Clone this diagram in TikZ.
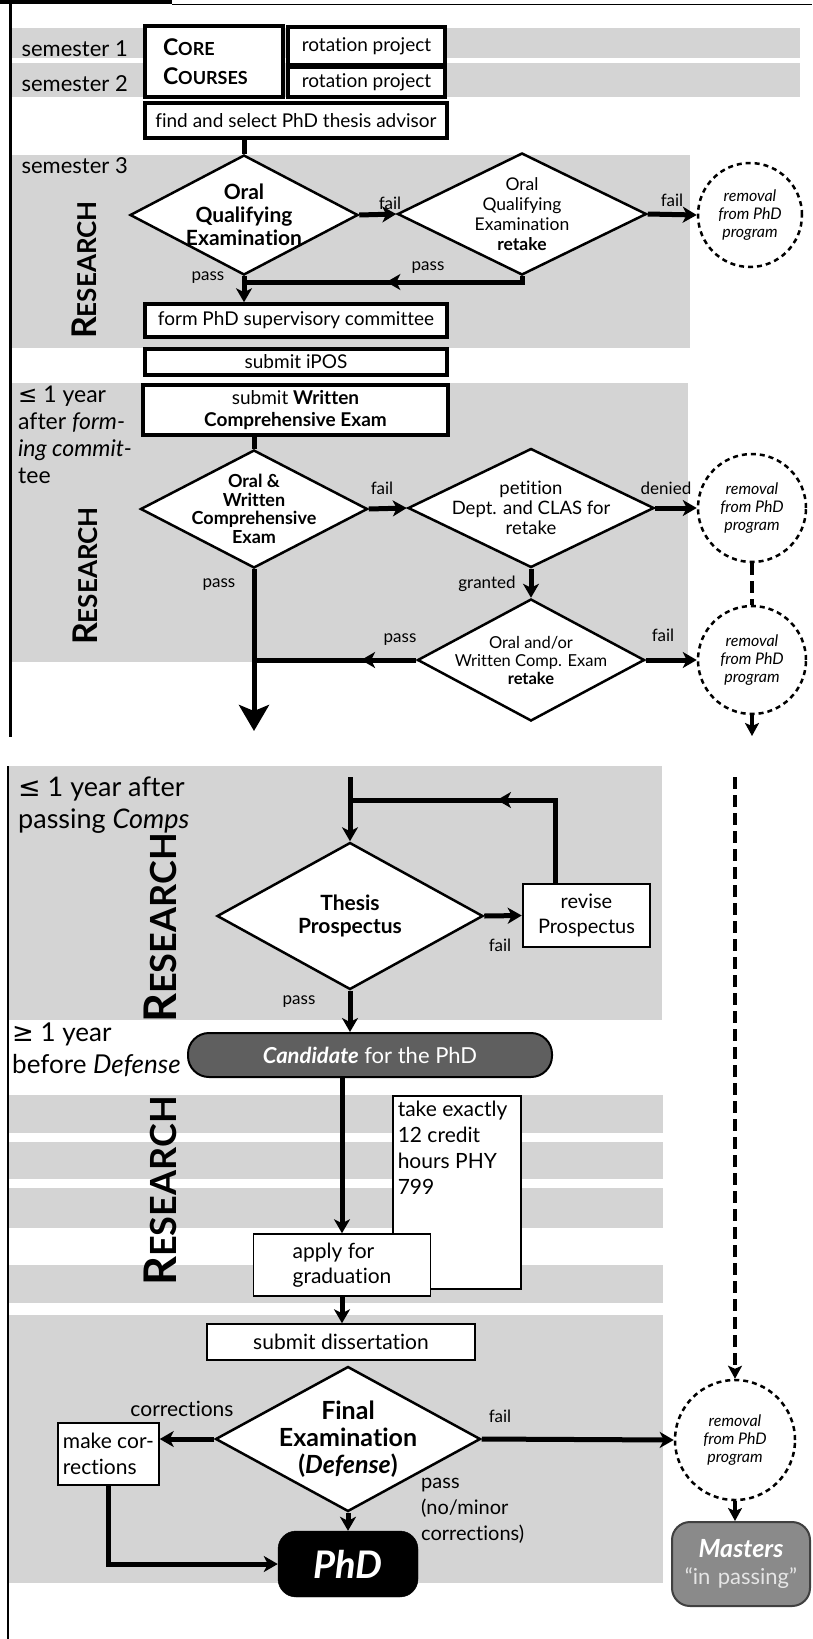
\documentclass[tikz,border=0pt]{standalone}
\usepackage{fontspec}
\setmainfont{Lato}[Ligatures=NoCommon]
\newfontfamily\symfont{DejaVu Sans}
\usetikzlibrary{arrows.meta,shapes.geometric,decorations.markings}
\definecolor{bandgray}{RGB}{212,212,212}
\definecolor{candgray}{RGB}{95,95,95}
\definecolor{mastgray}{RGB}{138,138,138}
\newcommand{\fs}[2]{\fontsize{#1}{#2}\selectfont}
\newcommand{\research}[2]{\bfseries{\fs{#1}{#1}R}\fs{#2}{#2}ESEARCH}
\tikzset{
  band/.style={fill=bandgray},
  heavybox/.style={draw, line width=3.5pt, fill=white, inner sep=0pt, font=\fs{19}{22}},
  lightbox/.style={draw, line width=1.5pt, fill=white, inner sep=4pt, font=\fs{21}{25}},
  decision/.style={diamond, draw, line width=2.5pt, fill=white, inner sep=-12pt,
    shape aspect=1.9, align=center},
  removal/.style={circle, draw, line width=2.5pt, dash pattern=on 5pt off 4pt, fill=white,
    inner sep=0pt, align=center, font=\itshape\fs{16}{18}},
  lbl/.style={inner sep=0pt, font=\fs{17}{20}},
  note/.style={inner sep=0pt, align=left, anchor=north west},
  trunk/.style={line width=5pt},
  flow/.style={trunk, -{Stealth[length=14pt,width=16pt,inset=4pt]}},
  midflow/.style={trunk, decoration={markings,
    mark=at position #1 with {\arrow{Stealth[length=14pt,width=16pt,inset=4pt]}}},
    postaction=decorate},
  dashline/.style={line width=4pt, dash pattern=on 12pt off 6pt},
  dashflow/.style={dashline, -{Stealth[length=13pt,width=14pt,inset=3pt]}},
}
\begin{document}
\begin{tikzpicture}[x=1pt,y=-1pt]
  \useasboundingbox (0,0) rectangle (812,1639);
  \fill[band] (12,28) rectangle (800,58);
  \fill[band] (12,63) rectangle (800,97);
  \fill[band] (12,155) rectangle (690,348);
  \fill[band] (12,383) rectangle (688,662);
  \fill[band] (8,766) rectangle (662,1020);
  \fill[band] (8,1095) rectangle (663,1133);
  \fill[band] (8,1142) rectangle (663,1179);
  \fill[band] (8,1188) rectangle (663,1228);
  \fill[band] (8,1265) rectangle (663,1303);
  \fill[band] (8,1315) rectangle (663,1583);
  \fill (0,0) rectangle (172,4);
  \draw[line width=1pt] (172,4) -- (812,4);
  \draw[line width=3pt] (10,4) -- (10,737);
  \draw[line width=2pt] (8,766) -- (8,1639);

  \node[anchor=base west, font=\fs{22}{27}] (sem1) at (18,56) {semester 1};
  \node[anchor=base west, font=\fs{22}{27}] (sem2) at (18,91) {semester 2};
  \node[anchor=base west, font=\fs{22}{27}] (sem3) at (18,173) {semester 3};
  \node[rotate=90] (res1) at (84,270) {\research{34}{26}};
  \node[note, font=\fs{23}{27}] (within1) at (18,386)
    {{\symfont ≤} 1 year\\after \textit{form-}\\\textit{ing commit-}\\tee};
  \node[rotate=90] (res2) at (85,576) {\research{34}{26}};

  \node[heavybox, minimum width=138pt, minimum height=71pt, text width=102pt, align=left,
    font=\bfseries\fs{18}{29}] (core) at (214,61.5)
    {{\fs{23}{29}C}ORE\\{\fs{23}{29}C}OURSES};
  \node[heavybox, minimum width=157pt, minimum height=38pt] (rot1) at (366.5,46) {rotation project};
  \node[heavybox, minimum width=157pt, minimum height=30pt] (rot2) at (366.5,82) {rotation project};
  \node[heavybox, minimum width=302pt, minimum height=35pt] (advisor) at (296,120.5)
    {find and select PhD thesis advisor};
  \node[decision, minimum width=228pt, minimum height=120pt, font=\bfseries\fs{21}{23}] (oqe)
    at (244,215) {Oral\\Qualifying\\Examination};
  \node[decision, minimum width=249pt, minimum height=122pt, font=\fs{17.5}{20}] (oqr)
    at (522,214) {Oral\\Qualifying\\Examination\\\textbf{retake}};
  \node[removal, minimum size=104pt] (rm1) at (750,215) {removal\\from PhD\\program};
  \node[heavybox, minimum width=302pt, minimum height=33pt] (form) at (296,320.5)
    {form PhD supervisory committee};
  \node[heavybox, minimum width=302pt, minimum height=26pt] (ipos) at (296,362) {submit iPOS};
  \node[heavybox, minimum width=305pt, minimum height=50pt, align=center] (writ) at (295.5,410)
    {submit \textbf{Written}\\\textbf{Comprehensive Exam}};
  \node[decision, minimum width=227pt, minimum height=118pt, font=\bfseries\fs{18}{18.5}] (owc)
    at (254,509) {Oral \&\\Written\\Comprehensive\\Exam};
  \node[decision, minimum width=246pt, minimum height=119pt, font=\fs{18.5}{20}] (pet)
    at (531,508) {petition\\Dept. and CLAS for\\retake};
  \node[removal, minimum size=108pt] (rm2) at (752,508) {removal\\from PhD\\program};
  \node[decision, minimum width=227pt, minimum height=122pt, font=\fs{16.5}{18}] (owr)
    at (531,660) {Oral and/or\\Written Comp. Exam\\\textbf{retake}};
  \node[removal, minimum size=108pt] (rm3) at (752,660) {removal\\from PhD\\program};

  \node[lbl] (f1) at (390,203) {fail};
  \node[lbl] (f2) at (672,200) {fail};
  \node[lbl] (p1) at (428,268) {pass};
  \node[lbl] (p2) at (208,278) {pass};
  \node[lbl] (f3) at (382,488) {fail};
  \node[lbl] (p3) at (219,585) {pass};
  \node[lbl] (den) at (666,488) {denied};
  \node[lbl] (gr) at (487,584) {granted};
  \node[lbl] (p4) at (400,640) {pass};
  \node[lbl] (f4) at (663,635) {fail};

  \coordinate (j1) at (245,282);
  \coordinate (j2) at (254,660);
  \coordinate (down1) at (254,731);
  \coordinate (drop1) at (752,736);
  \draw[trunk] (advisor.south -| oqe.north) -- (oqe.north);
  \draw[flow] (oqe.east) -- (oqr.west);
  \draw[flow] (oqr.east) -- (rm1.west);
  \draw[midflow=0.5] (oqr.south) |- (j1);
  \draw[flow] (oqe.south) -- (oqe.south |- form.north);
  \draw[trunk] (writ.south -| owc.north) -- (owc.north);
  \draw[flow] (owc.east) -- (pet.west);
  \draw[flow] (pet.east) -- (rm2.west);
  \draw[flow] (pet.south) -- (owr.north);
  \draw[flow] (owr.east) -- (rm3.west);
  \draw[dashline] (rm2) -- (rm3);
  \draw[midflow=0.34] (owr.west) -- (j2);
  \draw[trunk, -{Stealth[length=26pt,width=30pt,inset=6pt]}] (owc.south) -- (down1);
  \draw[dashflow] (rm3.south) -- (drop1);

  \node[note, font=\fs{27}{32}] (within2) at (18,777)
    {{\symfont ≤} 1 year after\\passing \textit{Comps}};
  \node[rotate=90] (res3) at (160,928) {\research{45}{36}};
  \node[note, font=\fs{26}{32}] (before) at (12,1023)
    {{\symfont ≥} 1 year\\before \textit{Defense}};
  \node[rotate=90] (res4) at (160,1191) {\research{45}{36}};

  \node[decision, minimum width=266pt, minimum height=147pt, font=\bfseries\fs{21}{23}] (tp)
    at (350,916) {Thesis\\Prospectus};
  \node[lightbox, line width=2.5pt, minimum width=127pt, minimum height=63pt, align=center,
    font=\fs{20}{25}] (rev) at (586.5,915.5) {revise\\Prospectus};
  \node[draw, line width=2pt, fill=candgray, text=white, rounded corners=21pt,
    minimum width=364pt, minimum height=44pt, font=\fs{22}{26}] (cand) at (370,1055)
    {\textbf{\textit{Candidate}} for the PhD};
  \node[lightbox, anchor=north west, inner sep=5pt, font=\fs{21}{26}] (take) at (392,1095)
    {\parbox[t][183pt][t]{118pt}{take exactly\\12 credit\\hours PHY\\799}};
  \node[lightbox, minimum width=177pt, minimum height=62pt, align=left] (apply) at (342,1265)
    {apply for\\graduation};
  \node[lightbox, minimum width=268pt, minimum height=36pt] (diss) at (341,1342)
    {submit dissertation};
  \node[decision, minimum width=265pt, minimum height=145pt, font=\bfseries\fs{25}{27}] (fin)
    at (348,1439) {Final\\Examination\\(\textit{Defense})};
  \node[lightbox, minimum width=101pt, minimum height=62pt, align=left, font=\fs{21}{26}] (mkc)
    at (108.5,1454) {make cor-\\rections};
  \node[draw, fill=black, text=white, rounded corners=18pt, minimum width=140pt,
    minimum height=66pt, inner sep=0pt, font=\bfseries\itshape\fs{38}{40}] (phd)
    at (348,1564) {PhD};
  \node[removal, minimum size=120pt] (rm4) at (735,1440) {removal\\from PhD\\program};
  \node[draw=black!75, line width=2pt, fill=mastgray, rounded corners=18pt, minimum width=138pt,
    minimum height=84pt, inner sep=0pt, text width=134pt, align=center, text=white,
    font=\fs{22}{27}] (mst) at (741,1564)
    {\textbf{\textit{\fs{25}{27}Masters}}\\\textcolor{black!10}{“in passing”}};

  \node[lbl] (p5) at (299,1002) {pass};
  \node[lbl] (f5) at (500,945) {fail};
  \node[lbl, font=\fs{21}{25}] (corr) at (182,1409) {corrections};
  \node[lbl] (f6) at (500,1416) {fail};
  \node[note, font=\fs{20}{26}] (p6) at (421,1478) {pass\\(no/minor\\corrections)};

  \coordinate (entry) at (350,777);
  \coordinate (loop) at (350,800);
  \coordinate (drop2) at (735,777);
  \draw[flow] (entry) -- (tp.north);
  \draw[midflow=0.49] ([xshift=-31pt]rev.north) |- (loop);
  \draw[flow] (tp.east) -- (rev.west);
  \draw[flow] (tp.south) -- (tp.south |- cand.north);
  \draw[flow] (cand.south -| apply.north) -- (apply.north);
  \draw[flow] (apply.south) -- (apply.south |- diss.north);
  \draw[flow] (fin.west) -- (fin.west -| mkc.east);
  \draw[flow] (fin.south) -- (phd.north);
  \draw[flow] (mkc.south) |- (phd.west);
  \draw[flow] (fin.east) -- (rm4.west);
  \draw[dashflow] (drop2) -- (rm4.north);
  \draw[dashflow] (rm4.south) -- (rm4.south |- mst.north);
\end{tikzpicture}
\end{document}
